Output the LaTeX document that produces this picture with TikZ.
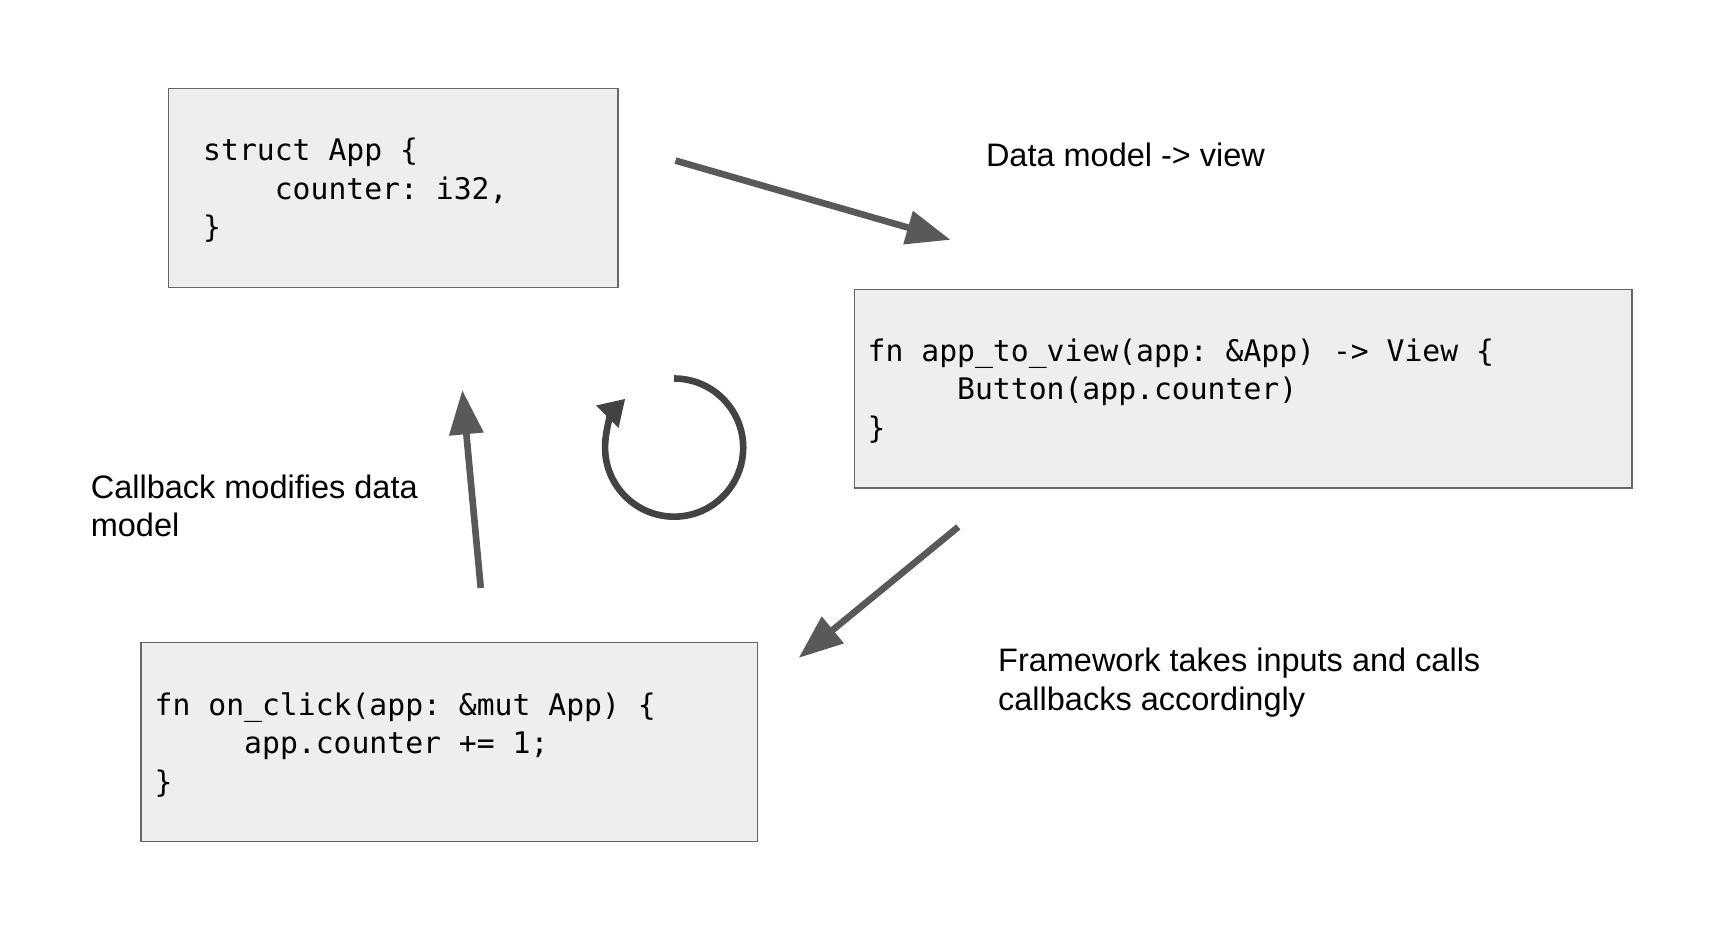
\documentclass[tikz,border=0pt]{standalone}
\usepackage{fontspec}
\setmainfont{Liberation Sans}
\setmonofont{DejaVu Sans Mono}
\usetikzlibrary{arrows.meta}
\definecolor{boxfill}{HTML}{EEEEEE}
\definecolor{boxline}{HTML}{666666}
\definecolor{arrowgray}{HTML}{595959}
\definecolor{loopgray}{HTML}{434343}

\begin{document}
\begin{tikzpicture}[x=1pt,y=-1pt]
 \tikzset{codebox/.style = {draw=boxline, line width=1.3pt, fill=boxfill, align=left, inner ysep=0pt, font=\ttfamily\fontsize{26.9}{34.8}\selectfont}}
 \tikzset{note/.style = {anchor=base west, inner sep=0pt, align=left, font=\fontsize{29.4}{34.8}\selectfont}}
 \tikzset{flow/.style = {draw=arrowgray, line width=6pt, -{Triangle[length=40pt,width=30pt]}}}
 \def\ws{\phantom{0}}
 \def\four{\ws\ws\ws\ws}
 \def\five{\ws\ws\ws\ws\ws}
 \def\close{\smash{\}}}
 \def\rad{62.5}

 \useasboundingbox (0,0) rectangle (1560,847);

 \node[codebox, minimum width=407pt, minimum height=180pt, text width=344pt, inner xsep=31.5pt] (app) at (355.9,170) {struct\ws App\ws\{\\\four counter:\ws i32,\\\close};
 \node[codebox, minimum width=703.7pt, minimum height=180pt, text width=679.7pt, inner xsep=12pt] (view) at (1125,351.7) {fn\ws app\_to\_view(app:\ws\&App)\ws->\ws View\ws\{\\\five Button(app.counter)\\\close};
 \node[codebox, minimum width=558pt, minimum height=180pt, text width=532.8pt, inner xsep=12.6pt] (click) at (406.4,671.6) {fn\ws on\_click(app:\ws\&mut\ws App)\ws\{\\\five app.counter\ws+=\ws1;\\\close};

 \node[note] (render) at (892,151) {Data model -> view};
 \node[note] (modify) at (82,485.5) {Callback modifies data\\model};
 \node[note] (events) at (903,642.7) {Framework takes inputs and calls\\callbacks accordingly};

 \coordinate (render0) at (611.2,145.3);
 \coordinate (render1) at (860.1,217);
 \coordinate (events0) at (867.1,476.8);
 \coordinate (events1) at (722.7,595.3);
 \coordinate (modify0) at (435,532);
 \coordinate (modify1) at (418.3,353);
 \coordinate (loop) at (610,405);

 \draw[flow] (render0) -- (render1);
 \draw[flow] (events0) -- (events1);
 \draw[flow] (modify0) -- (modify1);

 \draw[draw=loopgray, line width=6pt, -{Triangle[length=23pt,width=27pt]}] (loop) ++(0,-\rad) arc[start angle=-90, end angle=225, radius=\rad];

\end{tikzpicture}
\end{document}
